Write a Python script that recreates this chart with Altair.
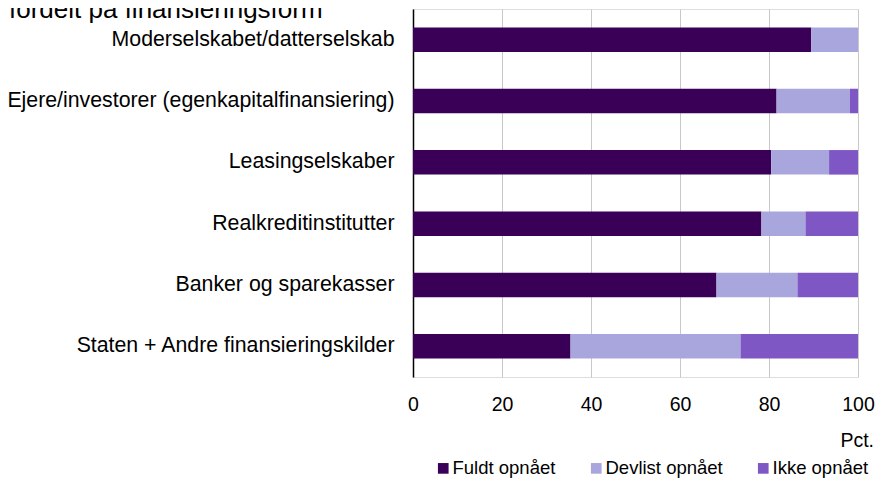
import altair as alt
import pandas as pd

categories = [
    "Moderselskabet/datterselskab",
    "Ejere/investorer (egenkapitalfinansiering)",
    "Leasingselskaber",
    "Realkreditinstitutter",
    "Banker og sparekasser",
    "Staten + Andre finansieringskilder",
]
series_names = ["Fuldt opnået", "Devlist opnået", "Ikke opnået"]
fuldt = [89.5, 81.7, 80.5, 78.3, 68.2, 35.4]
delvist = [10.5, 16.5, 13.0, 9.9, 18.2, 38.2]
ikke = [0.0, 1.8, 6.5, 11.8, 13.6, 26.4]
colors = ["#3a0057", "#a9a6de", "#7e57c5"]
x_ticks = [0, 20, 40, 60, 80, 100]
title_text = "fordelt på finansieringsform"
unit_text = "Pct."

FONT = "Liberation Sans"

rows = []
for i, c in enumerate(categories):
    for k, (name, vals) in enumerate(zip(series_names, [fuldt, delvist, ikke])):
        rows.append({"kategori": c, "serie": name, "værdi": vals[i], "orden": k})
df = pd.DataFrame(rows)

bars = alt.Chart(df).mark_bar().encode(
    y=alt.Y(
        "kategori:N",
        sort=categories,
        scale=alt.Scale(paddingInner=0.6, paddingOuter=0.3),
        axis=alt.Axis(
            title=None,
            domain=True,
            domainColor="#000000",
            domainWidth=1.5,
            ticks=False,
            grid=False,
            labelFontSize=21.3,
            labelFont=FONT,
            labelColor="#000000",
            labelPadding=19,
            labelLimit=500,
        ),
    ),
    x=alt.X(
        "værdi:Q",
        stack="zero",
        scale=alt.Scale(domain=[0, 100], nice=False),
        axis=alt.Axis(
            title=None,
            values=x_ticks,
            domain=False,
            ticks=False,
            grid=True,
            gridColor="#c8c8c8",
            gridWidth=1,
            labelFontSize=19.5,
            labelFont=FONT,
            labelColor="#000000",
            labelPadding=18,
            labelFlush=False,
            labelOverlap=False,
        ),
    ),
    color=alt.Color(
        "serie:N",
        scale=alt.Scale(domain=series_names, range=colors),
        legend=alt.Legend(
            title=None,
            orient="none",
            direction="horizontal",
            legendX=21,
            legendY=450,
            symbolType="square",
            symbolSize=114,
            symbolStrokeWidth=0,
            labelFontSize=18.5,
            labelFont=FONT,
            labelColor="#000000",
            labelOffset=0,
            columnPadding=31,
            padding=0,
        ),
    ),
    order=alt.Order("orden:Q"),
)

title_layer = alt.Chart(pd.DataFrame({"t": [title_text]})).mark_text(
    align="left", baseline="alphabetic", fontSize=26, font=FONT, color="#000000"
).encode(text="t:N", x=alt.value(-404), y=alt.value(9))

unit_layer = alt.Chart(pd.DataFrame({"t": [unit_text]})).mark_text(
    align="right", baseline="alphabetic", fontSize=19.5, font=FONT, color="#000000"
).encode(text="t:N", x=alt.value(461), y=alt.value(438))

chart = alt.layer(bars, title_layer, unit_layer).properties(
    width=445,
    height=368,
    autosize=alt.AutoSizeParams(type="none"),
    padding={"left": 405, "top": 1, "right": 17, "bottom": 105},
).configure_view(stroke=None).configure(background="#ffffff")

chart.save("out.html", embed_options={"renderer": "svg", "actions": False})
